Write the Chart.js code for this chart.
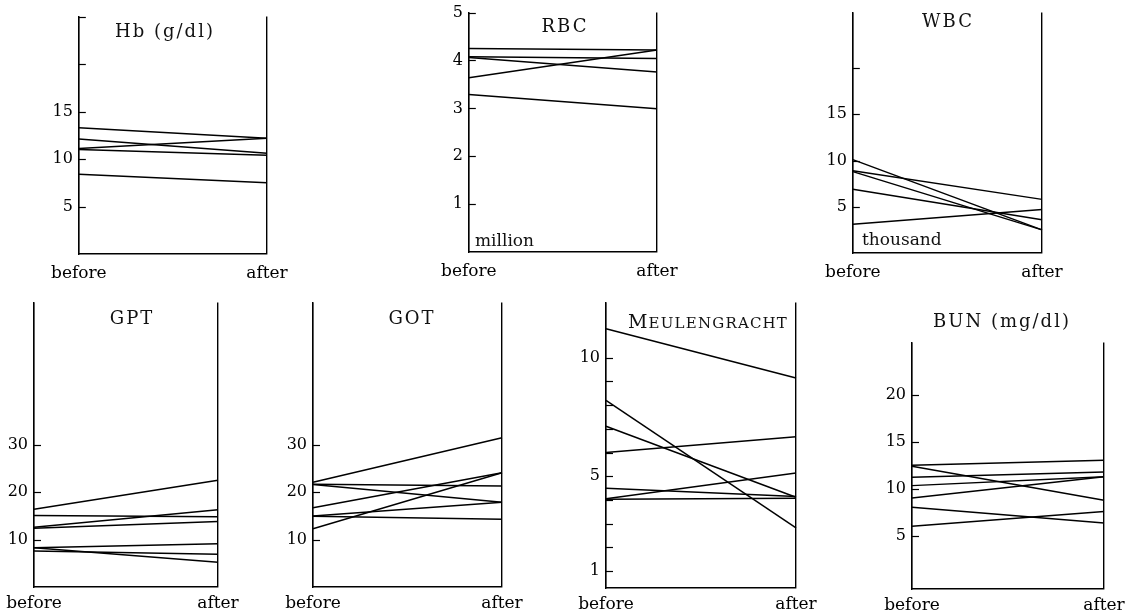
<!DOCTYPE html>
<html>
<head>
<meta charset="utf-8">
<script src="https://cdn.jsdelivr.net/npm/chart.js@4.4.0/dist/chart.umd.min.js"></script>
<style>
  html, body { margin: 0; padding: 0; background: #fff; }
  body { position: relative; width: 1135px; height: 612px; overflow: hidden; font-family: "DejaVu Serif", serif; color: #111; }
  canvas { position: absolute; }
  .title { position: absolute; transform: translate(-50%, -50%); font-size: 18px; letter-spacing: 2px; white-space: nowrap; }
  .unit { position: absolute; transform: translateY(-50%); font-size: 17px; white-space: nowrap; }
  .caps { font-size: 19px; letter-spacing: 1.2px; }
  .caps span { font-size: 15px; }
</style>
</head>
<body>

<canvas id="hb"></canvas>
<canvas id="rbc"></canvas>
<canvas id="wbc"></canvas>
<canvas id="gpt"></canvas>
<canvas id="got"></canvas>
<canvas id="meul"></canvas>
<canvas id="bun"></canvas>

<div class="title" style="left:165px; top:30px;">Hb (g/dl)</div>
<div class="title" style="left:565px; top:25px;">RBC</div>
<div class="title" style="left:948px; top:20px;">WBC</div>
<div class="title" style="left:132px; top:317px;">GPT</div>
<div class="title" style="left:412px; top:317px;">GOT</div>
<div class="title caps" style="left:708px; top:321px;">M<span>EULENGRACHT</span></div>
<div class="title" style="left:1002px; top:320px;">BUN (mg/dl)</div>
<div class="unit" style="left:475px; top:240px;">million</div>
<div class="unit" style="left:862px; top:239px;">thousand</div>

<script>
// Lab values before / after treatment - one line per patient

const stages = ['before', 'after'];

// Hb (g/dl)
const hbBefore = [13.3, 12.1, 11.1, 11.0, 8.4];
const hbAfter = [12.2, 10.6, 12.2, 10.4, 7.5];
const hbTicks = [5, 10, 15, 20, 25];
const hbTickLabels = [5, 10, 15];

// RBC (million)
const rbcBefore = [4.25, 4.08, 4.06, 3.64, 3.29];
const rbcAfter = [4.22, 4.04, 3.76, 4.22, 2.99];
const rbcTicks = [1, 2, 3, 4, 5];
const rbcTickLabels = [1, 2, 3, 4, 5];

// WBC (thousand)
const wbcBefore = [10.1, 8.9, 8.8, 6.9, 3.1];
const wbcAfter = [2.5, 5.8, 2.5, 3.6, 4.7];
const wbcTicks = [5, 10, 15, 20];
const wbcTickLabels = [5, 10, 15];

// GPT
const gptBefore = [16.4, 15.1, 12.6, 12.4, 8.3, 8.3, 7.6];
const gptAfter = [22.5, 14.8, 16.3, 13.8, 9.1, 5.2, 6.9];
const gptTicks = [10, 20, 30];
const gptTickLabels = [10, 20, 30];

// GOT
const gotBefore = [22.1, 21.7, 21.6, 16.7, 15.0, 14.9, 12.3];
const gotAfter = [31.5, 21.3, 17.9, 24.1, 17.9, 14.3, 24.1];
const gotTicks = [10, 20, 30];
const gotTickLabels = [10, 20, 30];

// Meulengracht
const meulBefore = [11.23, 8.2, 7.11, 6.0, 4.49, 4.05, 4.03];
const meulAfter = [9.15, 2.82, 4.11, 6.67, 4.14, 5.14, 4.07];
const meulTicks = [1, 2, 3, 4, 5, 6, 7, 8, 9, 10];
const meulTickLabels = [1, 5, 10];

// BUN (mg/dl)
const bunBefore = [12.5, 12.4, 11.25, 10.35, 9.05, 8.05, 6.05];
const bunAfter = [13.05, 8.8, 11.8, 11.3, 11.3, 6.4, 7.6];
const bunTicks = [5, 10, 15, 20];
const bunTickLabels = [5, 10, 15, 20];

// Layout
const AXIS_W = 34;
const PAD_TOP = 12;
const PAD_RIGHT = 30;
const X_AXIS_H = 30;
const INK = '#000';

// Tick marks that point into the plot, like the printed figure
const insideTicks = {
  id: 'insideTicks',
  afterDraw(chart) {
    const scale = chart.scales.y;
    const area = chart.chartArea;
    const ctx = chart.ctx;
    ctx.save();
    ctx.strokeStyle = INK;
    ctx.lineWidth = 1.2;
    scale.ticks.forEach(t => {
      const y = Math.round(scale.getPixelForValue(t.value)) + 0.5;
      ctx.beginPath();
      ctx.moveTo(area.left, y);
      ctx.lineTo(area.left + 7, y);
      ctx.stroke();
    });
    ctx.restore();
  }
};

function buildConfig(yMin, yMax, before, after, ticks, tickLabels, xPad) {
  const datasets = before.map((b, i) => ({
    data: [b, after[i]],
    borderColor: INK,
    borderWidth: 1.5,
    pointRadius: 0,
    tension: 0,
    fill: false,
    clip: false
  }));

  return {
    type: 'line',
    data: { labels: stages, datasets },
    plugins: [insideTicks],
    options: {
      responsive: false,
      maintainAspectRatio: false,
      animation: false,
      devicePixelRatio: 1,
      layout: { padding: { top: PAD_TOP, right: PAD_RIGHT, left: 0, bottom: 0 } },
      plugins: { legend: { display: false }, tooltip: { enabled: false } },
      scales: {
        x: {
          type: 'category',
          offset: false,
          afterFit: (scale) => { scale.height = X_AXIS_H; },
          grid: { color: INK, lineWidth: 1.4, drawOnChartArea: true, drawTicks: false },
          border: { display: true, color: INK, width: 1.4 },
          ticks: {
            color: INK,
            padding: xPad,
            maxRotation: 0,
            autoSkip: false,
            font: { family: 'DejaVu Serif', size: 17 }
          }
        },
        y: {
          type: 'linear',
          min: yMin,
          max: yMax,
          afterFit: (scale) => { scale.width = AXIS_W; },
          afterBuildTicks: (scale) => { scale.ticks = ticks.map(v => ({ value: v })); },
          grid: { display: false, drawTicks: false },
          border: { display: true, color: INK, width: 1.4 },
          ticks: {
            color: INK,
            padding: 6,
            font: { family: 'DejaVu Serif', size: 16 },
            callback: (v) => tickLabels.includes(v) ? String(v) : ''
          }
        }
      }
    }
  };
}

function makePanel(id, box, yMin, yMax, before, after, ticks, tickLabels, xPad) {
  const canvas = document.getElementById(id);
  const boxW = box.right - box.left;
  const boxH = box.bottom - box.top;
  canvas.width = boxW + AXIS_W + PAD_RIGHT;
  canvas.height = boxH + PAD_TOP + X_AXIS_H;

  // first pass: measure where the plot area ends up, then size the canvas so it fits the box
  let chart = new Chart(canvas.getContext('2d'), buildConfig(yMin, yMax, before, after, ticks, tickLabels, xPad));
  let area = chart.chartArea;
  const dw = boxW - Math.round(area.right - area.left);
  const dh = boxH - Math.round(area.bottom - area.top);
  if (dw !== 0 || dh !== 0) {
    const w = canvas.width + dw;
    const h = canvas.height + dh;
    chart.destroy();
    canvas.width = w;
    canvas.height = h;
    canvas.style.width = w + 'px';
    canvas.style.height = h + 'px';
    chart = new Chart(canvas.getContext('2d'), buildConfig(yMin, yMax, before, after, ticks, tickLabels, xPad));
    area = chart.chartArea;
  }
  canvas.style.left = Math.round(box.left - area.left) + 'px';
  canvas.style.top = Math.round(box.top - area.top) + 'px';
  return chart;
}

// Top row
makePanel('hb', { left: 79, top: 17, right: 267, bottom: 254 }, 0, 25, hbBefore, hbAfter, hbTicks, hbTickLabels, 9);
makePanel('rbc', { left: 469, top: 13, right: 657, bottom: 252 }, 0, 5, rbcBefore, rbcAfter, rbcTicks, rbcTickLabels, 9);
makePanel('wbc', { left: 853, top: 13, right: 1042, bottom: 253 }, 0, 26, wbcBefore, wbcAfter, wbcTicks, wbcTickLabels, 9);

// Bottom row
makePanel('gpt', { left: 34, top: 303, right: 218, bottom: 587 }, 0, 60, gptBefore, gptAfter, gptTicks, gptTickLabels, 6);
makePanel('got', { left: 313, top: 303, right: 502, bottom: 587 }, 0, 60, gotBefore, gotAfter, gotTicks, gotTickLabels, 6);
makePanel('meul', { left: 606, top: 303, right: 796, bottom: 588 }, 0.28, 12.33, meulBefore, meulAfter, meulTicks, meulTickLabels, 6);
makePanel('bun', { left: 912, top: 343, right: 1104, bottom: 589 }, -0.6, 25.5, bunBefore, bunAfter, bunTicks, bunTickLabels, 6);
</script>
</body>
</html>
